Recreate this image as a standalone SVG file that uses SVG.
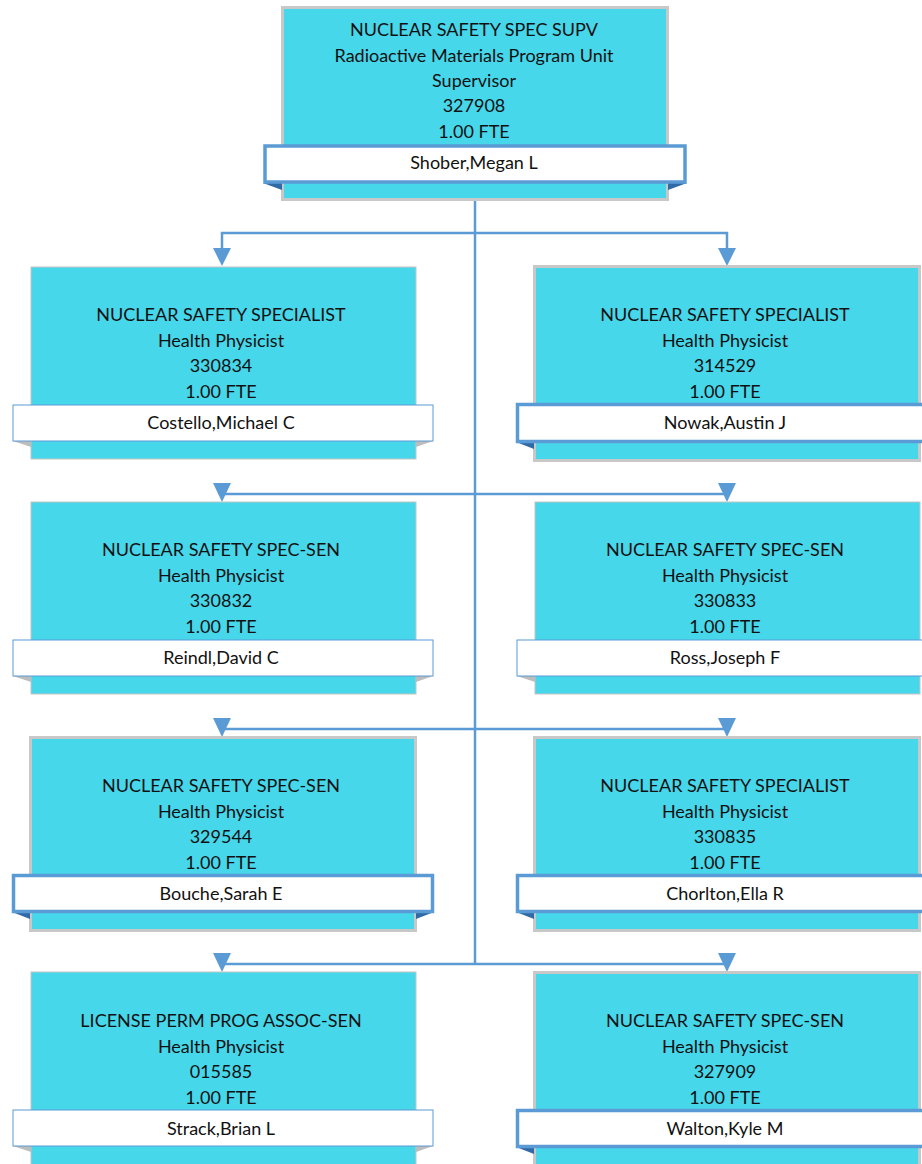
<svg xmlns="http://www.w3.org/2000/svg" width="922" height="1164" viewBox="0 0 922 1164">
<defs>
<style>
.box{fill:#46d7eb;stroke:#c4c4c4;stroke-width:1}
.box.k{stroke:#c8c8c8;stroke-width:3}
.bar{fill:#ffffff;stroke:#5b9bd5;stroke-width:1}
.bar.k{stroke-width:3.5}
.fold{fill:#bdbdbd}
.fold.k{fill:#2f6aa6}
text{font-family:Lato,"Liberation Sans",sans-serif;font-size:18px;fill:#111111;text-anchor:middle}
.ln{fill:none;stroke:#5b9bd5;stroke-width:2.5}
.ah{fill:#5b9bd5}
</style>
</defs>
<rect width="922" height="1164" fill="#ffffff"/>

<g id="connectors">
<path class="ln" d="M475 201 V963"/>
<path class="ln" d="M222 250 V233 H727 V250"/>
<polygon class="ah" points="213,248 231,248 222,266"/>
<polygon class="ah" points="718,248 736,248 727,266"/>
<path class="ln" d="M222 494 H727"/>
<polygon class="ah" points="213,483 231,483 222,502"/>
<polygon class="ah" points="718,483 736,483 727,502"/>
<path class="ln" d="M222 729 H727"/>
<polygon class="ah" points="213,718 231,718 222,737"/>
<polygon class="ah" points="718,718 736,718 727,737"/>
<path class="ln" d="M222 964 H727"/>
<polygon class="ah" points="213,953 231,953 222,972"/>
<polygon class="ah" points="718,953 736,953 727,972"/>
</g>

<g id="node-shober">
<rect class="box k" x="282.5" y="7.5" width="385" height="192"/>
<polygon class="fold k" points="263,183 282,183 282,190"/>
<polygon class="fold k" points="687,183 668,183 668,190"/>
<rect class="bar k" x="265" y="146" width="420" height="36"/>
<text x="474" y="36">NUCLEAR SAFETY SPEC SUPV</text>
<text x="474" y="62">Radioactive Materials Program Unit</text>
<text x="474" y="87">Supervisor</text>
<text x="474" y="112">327908</text>
<text x="474" y="138">1.00 FTE</text>
<text x="474" y="169">Shober,Megan L</text>
</g>

<g id="node-costello">
<rect class="box" x="31" y="267" width="385" height="192"/>
<polygon class="fold" points="13,441 31,441 31,447"/>
<polygon class="fold" points="433,441 416,441 416,447"/>
<rect class="bar" x="13" y="405" width="420" height="36"/>
<text x="221" y="321">NUCLEAR SAFETY SPECIALIST</text>
<text x="221" y="347">Health Physicist</text>
<text x="221" y="372">330834</text>
<text x="221" y="398">1.00 FTE</text>
<text x="221" y="429">Costello,Michael C</text>
</g>

<g id="node-nowak">
<rect class="box k" x="534.5" y="266.5" width="385" height="194"/>
<polygon class="fold k" points="516,442 534,442 534,449"/>
<rect class="bar k" x="517.5" y="404.5" width="420" height="37"/>
<text x="725" y="321">NUCLEAR SAFETY SPECIALIST</text>
<text x="725" y="347">Health Physicist</text>
<text x="725" y="372">314529</text>
<text x="725" y="398">1.00 FTE</text>
<text x="725" y="429">Nowak,Austin J</text>
</g>

<g id="node-reindl">
<rect class="box" x="31" y="502" width="385" height="192"/>
<polygon class="fold" points="13,676 31,676 31,682"/>
<polygon class="fold" points="433,676 416,676 416,682"/>
<rect class="bar" x="13" y="640" width="420" height="36"/>
<text x="221" y="556">NUCLEAR SAFETY SPEC-SEN</text>
<text x="221" y="582">Health Physicist</text>
<text x="221" y="607">330832</text>
<text x="221" y="633">1.00 FTE</text>
<text x="221" y="664">Reindl,David C</text>
</g>

<g id="node-ross">
<rect class="box" x="535" y="502" width="385" height="192"/>
<polygon class="fold" points="517,676 535,676 535,682"/>
<rect class="bar" x="517" y="640" width="420" height="36"/>
<text x="725" y="556">NUCLEAR SAFETY SPEC-SEN</text>
<text x="725" y="582">Health Physicist</text>
<text x="725" y="607">330833</text>
<text x="725" y="633">1.00 FTE</text>
<text x="725" y="664">Ross,Joseph F</text>
</g>

<g id="node-bouche">
<rect class="box k" x="30.5" y="737.5" width="385" height="193"/>
<polygon class="fold k" points="12,912 30,912 30,919"/>
<polygon class="fold k" points="434,912 416,912 416,919"/>
<rect class="bar k" x="13.5" y="875.5" width="419" height="36"/>
<text x="221" y="792">NUCLEAR SAFETY SPEC-SEN</text>
<text x="221" y="818">Health Physicist</text>
<text x="221" y="843">329544</text>
<text x="221" y="869">1.00 FTE</text>
<text x="221" y="900">Bouche,Sarah E</text>
</g>

<g id="node-chorlton">
<rect class="box k" x="534.5" y="737.5" width="385" height="193"/>
<polygon class="fold k" points="516,912 534,912 534,919"/>
<rect class="bar k" x="517.5" y="875.5" width="420" height="36"/>
<text x="725" y="792">NUCLEAR SAFETY SPECIALIST</text>
<text x="725" y="818">Health Physicist</text>
<text x="725" y="843">330835</text>
<text x="725" y="869">1.00 FTE</text>
<text x="725" y="900">Chorlton,Ella R</text>
</g>

<g id="node-strack">
<rect class="box" x="31" y="972" width="385" height="200"/>
<polygon class="fold" points="13,1146 31,1146 31,1152"/>
<polygon class="fold" points="433,1146 416,1146 416,1152"/>
<rect class="bar" x="13" y="1110" width="420" height="36"/>
<text x="221" y="1027">LICENSE PERM PROG ASSOC-SEN</text>
<text x="221" y="1053">Health Physicist</text>
<text x="221" y="1078">015585</text>
<text x="221" y="1104">1.00 FTE</text>
<text x="221" y="1135">Strack,Brian L</text>
</g>

<g id="node-walton">
<rect class="box k" x="534.5" y="972.5" width="385" height="200"/>
<polygon class="fold k" points="516,1147 534,1147 534,1154"/>
<rect class="bar k" x="517.5" y="1110.5" width="420" height="36"/>
<text x="725" y="1027">NUCLEAR SAFETY SPEC-SEN</text>
<text x="725" y="1053">Health Physicist</text>
<text x="725" y="1078">327909</text>
<text x="725" y="1104">1.00 FTE</text>
<text x="725" y="1135">Walton,Kyle M</text>
</g>
</svg>
